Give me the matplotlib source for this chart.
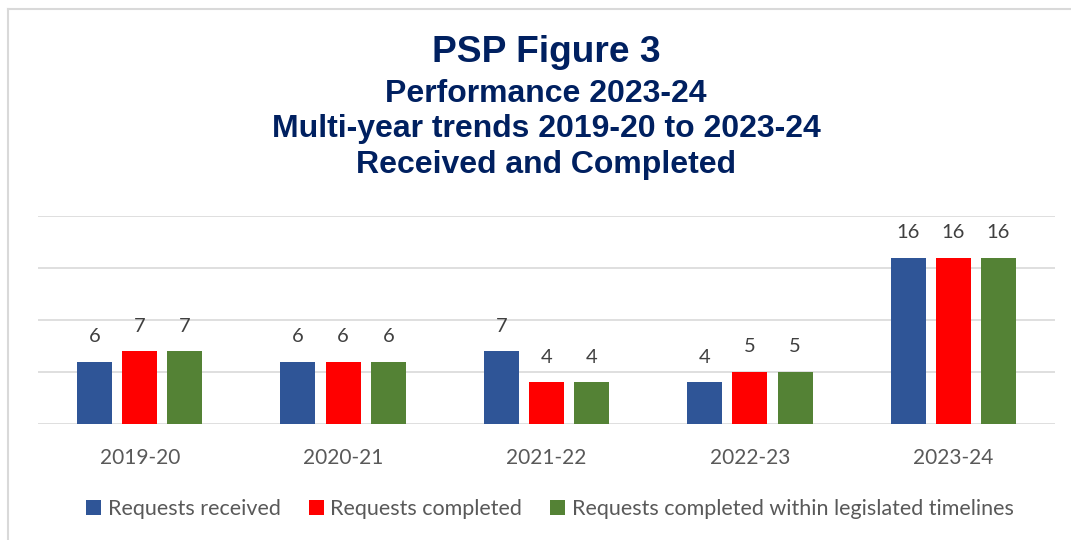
import numpy as np
import matplotlib
matplotlib.use('Agg')
import matplotlib.pyplot as plt
from matplotlib.lines import Line2D

#chart data
years = ['2019-20', '2020-21', '2021-22', '2022-23', '2023-24']
received = [6, 6, 7, 4, 16]
completed = [7, 6, 4, 5, 16]
within_time = [7, 6, 4, 5, 16]
series_names = ['Requests received', 'Requests completed',
                'Requests completed within legislated timelines']
colors = ['#2F5597', '#FF0000', '#548235']

W, H = 1071, 540
fig = plt.figure(figsize=(W/100, H/100), dpi=100)
ax = fig.add_axes([38/W, 1-424/H, (1055-38)/W, (424-216)/H])

x = np.arange(len(years))
step = 0.222
width = 0.172
for k, vals in enumerate([received, completed, within_time]):
    bars = ax.bar(x + (k-1)*step, vals, width, color=colors[k],
                  label=series_names[k], zorder=3)
    for b, v in zip(bars, vals):
        ax.annotate(str(v), (b.get_x() + b.get_width()/2, v),
                    textcoords='offset points', xytext=(0, 18),
                    ha='center', va='center', fontsize=14.5,
                    color='#404040', family='Lato')

ax.set_xlim(-0.5, len(years)-0.5)
ax.set_ylim(0, 20)
ax.set_yticks([0, 5, 10, 15, 20])
ax.yaxis.grid(True, color='#d9d9d9', lw=1.2, zorder=0)
ax.set_axisbelow(True)
ax.tick_params(axis='y', left=False, labelleft=False)
ax.tick_params(axis='x', length=0, pad=17, labelsize=15, labelcolor='#595959')
ax.set_xticks(x)
ax.set_xticklabels(years, family='Lato')
for s in ax.spines.values():
    s.set_visible(False)

#titles
navy = '#002060'
fig.text(546/W, 1-62/H, 'PSP Figure 3', ha='center', va='baseline',
         fontsize=26.7, weight='bold', color=navy, family='Liberation Sans')
titles = ['Performance 2023-24', 'Multi-year trends 2019-20 to 2023-24',
          'Received and Completed']
for t, yy in zip(titles, [102, 137, 173]):
    fig.text(546/W, 1-yy/H, t, ha='center', va='baseline',
             fontsize=23, weight='bold', color=navy, family='Liberation Sans')

leg = fig.legend(loc='center', bbox_to_anchor=(550/W, 1-509/H), ncol=3,
                 frameon=False, prop={'family': 'Lato', 'size': 15.5},
                 handlelength=0.7, handleheight=0.7, handletextpad=0.3,
                 columnspacing=1.3, labelcolor='#595959')

#outer border (top and left)
fig.add_artist(Line2D([8/W, 1], [1-9/H, 1-9/H], color='#d9d9d9', lw=1.5))
fig.add_artist(Line2D([8/W, 8/W], [0, 1-9/H], color='#d9d9d9', lw=1.5))

plt.savefig('out.png', dpi=100)
